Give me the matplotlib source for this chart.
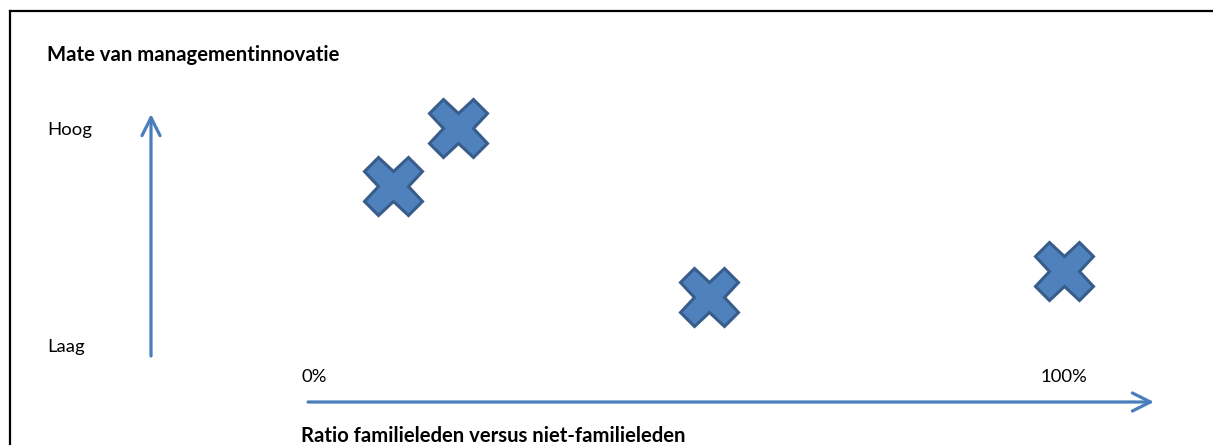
import matplotlib
matplotlib.use("Agg")
from matplotlib import pyplot as plt
from matplotlib.lines import Line2D
import matplotlib.transforms as mtransforms

# ratio family members (%) and level of management innovation (0 = Laag, 100 = Hoog)
ratio_pct = [10.5, 19.2, 52.7, 100.0]
innovation = [74, 101, 23, 35]

x_ticks = [0, 100]
x_tick_labels = ["0%", "100%"]
y_ticks = [0, 100]
y_tick_labels = ["Laag", "Hoog"]

title_y = "Mate van managementinnovatie"
title_x = "Ratio familieleden versus niet-familieleden"

blue_fill = "#4F81BD"
blue_edge = "#385D8A"
arrow_col = "#4A7EBB"

W, H = 1213, 445
plt.rcParams['font.family'] = ['Lato', 'DejaVu Sans']

fig = plt.figure(figsize=(W / 100, H / 100), dpi=100)
ax = fig.add_axes([0, 0, 1, 1])
# pixel mapping: 0% -> 314px, 100% -> 1064px ; Laag -> 347px, Hoog -> 130px (from top)
sx = (1064 - 314) / 100.0
sy = (347 - 130) / 100.0
ax.set_xlim(-314 / sx, (W - 314) / sx)
ax.set_ylim((347 - H) / sy, 347 / sy)
ax.axis("off")

ax.plot(ratio_pct, innovation, linestyle="none", marker="X", ms=42,
        mfc=blue_fill, mec=blue_edge, mew=2.2)

def fx(px):
    return px / W

def fy(py):
    return 1 - py / H

# border (top and left only)
fig.add_artist(Line2D([fx(9.5), 1], [fy(10.5), fy(10.5)], color="black", lw=1.6))
fig.add_artist(Line2D([fx(9.5), fx(9.5)], [fy(10.5), 0], color="black", lw=1.6))

# axis arrows
astyle = dict(arrowstyle="->,head_length=1.3,head_width=0.65", color=arrow_col,
              lw=2.3, shrinkA=0, shrinkB=0, mutation_scale=10)
ax.annotate("", xy=(fx(151), fy(114)), xytext=(fx(151), fy(356)),
            xycoords="figure fraction", textcoords="figure fraction", arrowprops=astyle)
ax.annotate("", xy=(fx(1154), fy(402)), xytext=(fx(308), fy(402)),
            xycoords="figure fraction", textcoords="figure fraction", arrowprops=astyle)

# tick labels tied to data scale
tx = mtransforms.blended_transform_factory(ax.transData, fig.transFigure)
for v, lab in zip(x_ticks, x_tick_labels):
    ax.text(v, fy(377), lab, transform=tx, ha="center", va="center", fontsize=13.3)
ty = mtransforms.blended_transform_factory(fig.transFigure, ax.transData)
for v, lab in zip(y_ticks, y_tick_labels):
    ax.text(fx(47), v, lab, transform=ty, ha="left", va="center", fontsize=13.3)

fig.text(fx(47), fy(55), title_y, ha="left", va="center", fontsize=14.6, fontweight="bold")
fig.text(fx(301), fy(436), title_x, ha="left", va="center", fontsize=14.6, fontweight="bold")

fig.savefig("out.png", dpi=100)
